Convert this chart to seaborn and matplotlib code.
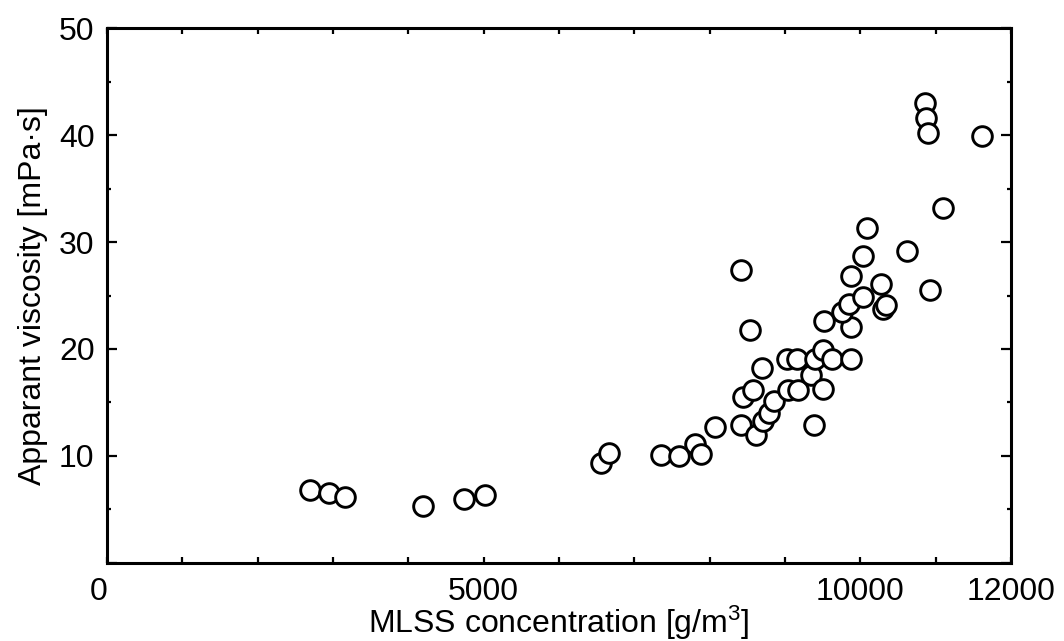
import matplotlib
matplotlib.use("Agg")
import matplotlib.pyplot as plt
from matplotlib.ticker import MultipleLocator, FuncFormatter
import seaborn as sns
import pandas as pd

# MLSS concentration [g/m3] vs apparent viscosity [mPa*s]
mlss = [2700, 2950, 3160, 4200, 4740, 5020, 6560, 6670, 7350, 7590,
        7800, 7890, 8070, 8410, 8540, 8700, 8440, 8580, 8620, 8710,
        8790, 8860, 9020, 9160, 9040, 9170, 9380, 9350, 9500, 9400,
        9510, 9630, 9870, 9520, 9870, 9750, 9850, 10030, 10300, 10340,
        10280, 9880, 10040, 10090, 10620, 10920, 11100, 10860, 10870, 10900,
        11610, 8410]
viscosity = [6.8, 6.5, 6.2, 5.35, 6.0, 6.4, 9.3, 10.25, 10.1, 10.0,
             11.1, 10.2, 12.7, 12.9, 21.8, 18.2, 15.5, 16.2, 12.0, 13.3,
             14.05, 15.1, 19.05, 19.05, 16.2, 16.2, 12.9, 17.6, 16.3, 19.1,
             19.9, 19.1, 19.1, 22.6, 22.1, 23.5, 24.2, 24.9, 23.7, 24.1,
             26.1, 26.8, 28.7, 31.3, 29.2, 25.5, 33.2, 43.0, 41.6, 40.2,
             39.9, 27.4]
x_labelled = [0, 5000, 10000, 12000]

df = pd.DataFrame({"mlss": mlss, "viscosity": viscosity})

sns.set_style("ticks")
plt.rcParams["font.family"] = ["Liberation Sans", "DejaVu Sans"]
plt.rcParams["mathtext.default"] = "regular"
plt.rcParams["text.color"] = "black"

fig = plt.figure(figsize=(10.64, 6.41), dpi=100)
ax = fig.add_axes([0.1006, 0.1217, 0.8496, 0.8346])

sns.scatterplot(data=df, x="mlss", y="viscosity", marker="o", s=200,
                color="white", edgecolor="black", linewidth=2.1, ax=ax, zorder=3)

ax.set_xlim(0, 12000)
ax.set_ylim(0, 50)

ax.xaxis.set_major_locator(MultipleLocator(1000))
ax.xaxis.set_major_formatter(FuncFormatter(
    lambda v, p: f"{v:.0f}" if round(v) in x_labelled else ""))
ax.yaxis.set_major_locator(MultipleLocator(10))
ax.yaxis.set_minor_locator(MultipleLocator(5))
ax.yaxis.set_major_formatter(FuncFormatter(lambda v, p: "" if v == 0 else f"{v:.0f}"))

ax.tick_params(axis="x", which="major", direction="in", top=True, length=4,
               width=1.6, labelsize=23, pad=10, colors="black")
ax.tick_params(axis="y", which="major", direction="in", right=True, length=7,
               width=1.6, labelsize=23, pad=9, colors="black")
ax.tick_params(axis="y", which="minor", direction="in", right=True, length=3,
               width=1.6, colors="black")

for sp in ax.spines.values():
    sp.set_linewidth(2.2)
    sp.set_color("black")
    sp.set_visible(True)

ax.set_xlabel("MLSS concentration [g/m$^{3}$]", fontsize=23, labelpad=-2, color="black")
ax.set_ylabel("Apparant viscosity [mPa·s]", fontsize=23, labelpad=8, color="black")

# the origin label sits just left of the corner
fig.canvas.draw()
for t in ax.xaxis.get_major_ticks():
    if abs(t.get_loc()) < 1e-6:
        t.label1.set_horizontalalignment("right")
        t.label1.set_x(t.get_loc())

fig.savefig("out.png", dpi=100)
